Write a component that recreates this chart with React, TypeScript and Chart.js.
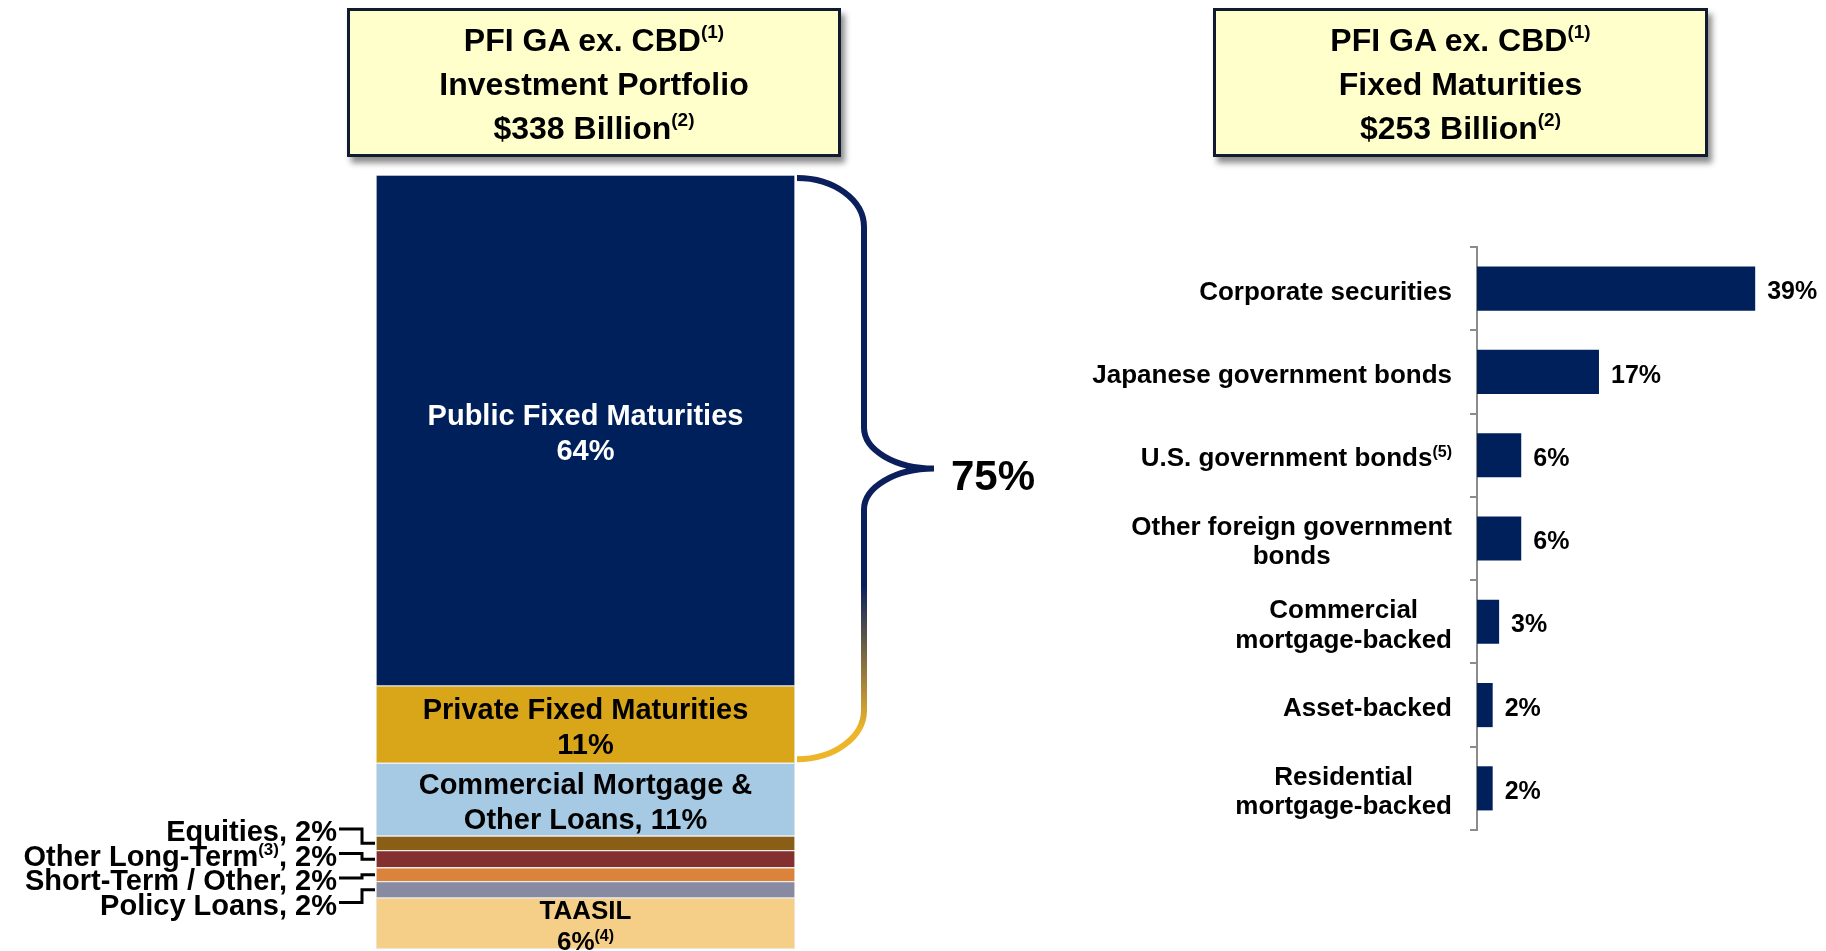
import React, { useEffect, useRef } from 'react';
import { Chart, registerables } from 'chart.js';

Chart.register(...registerables);

const FONT = '"Liberation Sans", Arial, Helvetica, sans-serif';

// ---------- Left chart: investment portfolio (stacked, 100%) ----------
const portfolioSegments = [
  'Public Fixed Maturities',
  'Private Fixed Maturities',
  'Commercial Mortgage & Other Loans',
  'Equities',
  'Other Long-Term',
  'Short-Term / Other',
  'Policy Loans',
  'TAASIL',
];
// shares as drawn in the picture (share of total bar height, %)
const portfolioShares = [66, 10, 9.4, 1.9, 2.2, 1.8, 2.1, 6.6];
// printed labels
const portfolioTextLines = [
  ['Public Fixed Maturities', '64%'],
  ['Private Fixed Maturities', '11%'],
  ['Commercial Mortgage &', 'Other Loans, 11%'],
  ['Equities, 2%'],
  ['Other Long-Term^{(3)}, 2%'],
  ['Short-Term / Other, 2%'],
  ['Policy Loans, 2%'],
  ['TAASIL', '6%^{(4)}'],
];
const calloutSegments = [3, 4, 5, 6];
const braceLabel = '75%';
const portfolioColors = ['#00205B', '#D9A61A', '#A6CAE3', '#8B5E15', '#84302F', '#DB823B', '#878AA0', '#F5CE88'];

// ---------- Right chart: fixed maturities ----------
const fmCategories = [
  ['Corporate securities'],
  ['Japanese government bonds'],
  ['U.S. government bonds'],
  ['Other foreign government', 'bonds'],
  ['Commercial', 'mortgage-backed'],
  ['Asset-backed'],
  ['Residential', 'mortgage-backed'],
];
const fmFootnotes = ['', '', '(5)', '', '', '', ''];
const fmShares = [39, 17.1, 6.2, 6.2, 3.1, 2.2, 2.2];

const leftTitleLines = ['PFI GA ex. CBD^{(1)}', 'Investment Portfolio', '$338 Billion^{(2)}'];
const rightTitleLines = ['PFI GA ex. CBD^{(1)}', 'Fixed Maturities', '$253 Billion^{(2)}'];

type Run = { t: string; sup: boolean };

function parseRich(s: string): Run[] {
  const runs: Run[] = [];
  const re = /\^\{([^}]*)\}/g;
  let last = 0;
  let m: RegExpExecArray | null;
  while ((m = re.exec(s))) {
    if (m.index > last) runs.push({ t: s.slice(last, m.index), sup: false });
    runs.push({ t: m[1], sup: true });
    last = re.lastIndex;
  }
  if (last < s.length) runs.push({ t: s.slice(last), sup: false });
  return runs;
}

function richWidth(ctx: CanvasRenderingContext2D, s: string, size: number) {
  const supSize = Math.round(size * 0.6);
  let w = 0;
  for (const r of parseRich(s)) {
    ctx.font = `bold ${r.sup ? supSize : size}px ${FONT}`;
    w += ctx.measureText(r.t).width;
  }
  return w;
}

function drawRich(
  ctx: CanvasRenderingContext2D,
  s: string,
  x: number,
  y: number,
  align: 'left' | 'right' | 'center',
  size: number,
  color: string
) {
  const runs = parseRich(s);
  const supSize = Math.round(size * 0.6);
  const widths = runs.map((r) => {
    ctx.font = `bold ${r.sup ? supSize : size}px ${FONT}`;
    return ctx.measureText(r.t).width;
  });
  const total = widths.reduce((a, b) => a + b, 0);
  let cx = align === 'left' ? x : align === 'right' ? x - total : x - total / 2;
  const yy = y + size * 0.15;
  ctx.textAlign = 'left';
  ctx.textBaseline = 'middle';
  ctx.fillStyle = color;
  runs.forEach((r, i) => {
    ctx.font = `bold ${r.sup ? supSize : size}px ${FONT}`;
    ctx.fillText(r.t, cx, r.sup ? yy - size * 0.26 : yy);
    cx += widths[i];
  });
  return total;
}

const portfolioPlugin = {
  id: 'portfolioAnnotations',
  afterDatasetsDraw(chart: any) {
    const ctx: CanvasRenderingContext2D = chart.ctx;
    const area = chart.chartArea;
    const rects = chart.data.datasets.map((_: any, i: number) => {
      const el = chart.getDatasetMeta(i).data[0];
      const top = Math.min(el.y, el.base);
      const bottom = Math.max(el.y, el.base);
      return { left: el.x - el.width / 2, right: el.x + el.width / 2, top, bottom, cx: el.x, cy: (top + bottom) / 2 };
    });
    ctx.save();
    // labels inside segments
    portfolioTextLines.forEach((lines, i) => {
      if (calloutSegments.includes(i)) return;
      const r = rects[i];
      const small = r.bottom - r.top < 60;
      const size = small ? 26 : 29;
      const lh = small ? 31 : 35;
      lines.forEach((line, j) =>
        drawRich(ctx, line, r.cx, r.cy + (j - (lines.length - 1) / 2) * lh, 'center', size, i === 0 ? '#FFFFFF' : '#000000')
      );
    });
    // callouts for thin segments
    const centers = calloutSegments.map((i) => rects[i].cy);
    const mid = centers.reduce((a, b) => a + b, 0) / centers.length - 1;
    calloutSegments.forEach((i, k) => {
      const ly = mid + (k - (calloutSegments.length - 1) / 2) * 24.5;
      const r = rects[i];
      drawRich(ctx, portfolioTextLines[i][0], area.left - 39, ly, 'right', 29, '#000000');
      ctx.beginPath();
      ctx.moveTo(area.left - 37, ly);
      ctx.lineTo(area.left - 14, ly);
      ctx.lineTo(area.left - 14, r.cy);
      ctx.lineTo(area.left - 1, r.cy);
      ctx.lineWidth = 3;
      ctx.lineJoin = 'miter';
      ctx.strokeStyle = '#000000';
      ctx.stroke();
    });
    // brace over the first two segments
    const x0 = rects[0].right + 2;
    const yTop = rects[0].top + 3;
    const yBot = rects[1].bottom - 4;
    const xv = x0 + 67;
    const xt = x0 + 137;
    const yMid = (yTop + yBot) / 2;
    const ry = 49;
    const ry2 = 41;
    const grad = ctx.createLinearGradient(0, yTop, 0, yBot);
    grad.addColorStop(0, '#0A1F5C');
    grad.addColorStop(0.7, '#0A1F5C');
    grad.addColorStop(0.95, '#EDB62A');
    grad.addColorStop(1, '#EDB62A');
    ctx.beginPath();
    ctx.ellipse(x0, yTop + ry, xv - x0, ry, 0, -Math.PI / 2, 0, false);
    ctx.lineTo(xv, yMid - ry2);
    ctx.ellipse(xt, yMid - ry2, xt - xv, ry2, 0, Math.PI, Math.PI / 2, true);
    ctx.ellipse(xt, yMid + ry2, xt - xv, ry2, 0, -Math.PI / 2, -Math.PI, true);
    ctx.lineTo(xv, yBot - ry);
    ctx.ellipse(x0, yBot - ry, xv - x0, ry, 0, 0, Math.PI / 2, false);
    ctx.lineWidth = 6;
    ctx.lineCap = 'butt';
    ctx.strokeStyle = grad;
    ctx.stroke();
    drawRich(ctx, braceLabel, xt + 17, yMid + 4, 'left', 42, '#000000');
    ctx.restore();
  },
};

const fmPlugin = {
  id: 'fmAnnotations',
  afterDraw(chart: any) {
    const ctx: CanvasRenderingContext2D = chart.ctx;
    const area = chart.chartArea;
    const yScale = chart.scales.y;
    ctx.save();
    fmCategories.forEach((lines, i) => {
      const y = yScale.getPixelForTick(i);
      const size = 26;
      const lh = 29.5;
      const full = lines.map((l, j) =>
        j === lines.length - 1 && fmFootnotes[i] ? `${l}^{${fmFootnotes[i]}}` : l
      );
      const widths = full.map((l) => richWidth(ctx, l, size));
      const blockW = Math.max(...widths);
      const right = area.left - 25;
      const cx = right - blockW / 2;
      full.forEach((l, j) => drawRich(ctx, l, cx, y + (j - (full.length - 1) / 2) * lh, 'center', size, '#000000'));
    });
    const meta = chart.getDatasetMeta(0);
    meta.data.forEach((el: any, i: number) => {
      drawRich(ctx, `${Math.round(fmShares[i])}%`, el.x + 12, el.y, 'left', 25, '#000000');
    });
    ctx.restore();
  },
};

function RichHtml({ text }: { text: string }) {
  return (
    <>
      {parseRich(text).map((r, i) =>
        r.sup ? (
          <span key={i} style={{ fontSize: 19, position: 'relative', top: -13, lineHeight: 0 }}>
            {r.t}
          </span>
        ) : (
          <span key={i}>{r.t}</span>
        )
      )}
    </>
  );
}

function TitleBox({ left, width, lines }: { left: number; width: number; lines: string[] }) {
  return (
    <div
      style={{
        position: 'absolute',
        left,
        top: 8,
        width,
        height: 149,
        boxSizing: 'border-box',
        border: '3px solid #111B30',
        background: '#FFFFCC',
        boxShadow: '4px 6px 6px rgba(0,0,0,0.45)',
        fontFamily: FONT,
        fontWeight: 700,
        fontSize: 32,
        lineHeight: '44px',
        textAlign: 'center',
        paddingTop: 7,
        color: '#000',
      }}
    >
      {lines.map((l, i) => (
        <div key={i} style={{ height: 44, whiteSpace: 'nowrap' }}>
          <RichHtml text={l} />
        </div>
      ))}
    </div>
  );
}

export default function App() {
  const leftRef = useRef<HTMLCanvasElement | null>(null);
  const rightRef = useRef<HTMLCanvasElement | null>(null);

  useEffect(() => {
    Chart.defaults.font.family = FONT;
    const left = new Chart(leftRef.current as HTMLCanvasElement, {
      type: 'bar',
      data: {
        labels: ['Portfolio'],
        datasets: portfolioSegments.map((name, i) => ({
          label: name,
          data: [portfolioShares[i]],
          backgroundColor: portfolioColors[i],
          borderColor: '#EDEDED',
          borderWidth: 1,
          borderSkipped: false,
          barPercentage: 1,
          categoryPercentage: 1,
        })),
      },
      options: {
        responsive: false,
        animation: false,
        layout: { padding: { left: 376, right: 265, top: 175, bottom: 2 } },
        plugins: { legend: { display: false }, tooltip: { enabled: false } },
        scales: {
          x: { display: false, stacked: true },
          y: { display: false, stacked: true, reverse: true, min: 0, max: 100 },
        },
      },
      plugins: [portfolioPlugin],
    } as any);

    const right = new Chart(rightRef.current as HTMLCanvasElement, {
      type: 'bar',
      data: {
        labels: fmCategories,
        datasets: [
          {
            label: 'Fixed Maturities',
            data: fmShares,
            backgroundColor: '#00205B',
            barPercentage: 0.53,
            categoryPercentage: 1,
          },
        ],
      },
      options: {
        indexAxis: 'y',
        responsive: false,
        animation: false,
        layout: { padding: { left: 410, right: 28, top: 247, bottom: 121 } },
        plugins: { legend: { display: false }, tooltip: { enabled: false } },
        scales: {
          x: { display: false, min: 0, max: 45 },
          y: {
            z: 1,
            ticks: { display: false },
            grid: {
              display: true,
              drawOnChartArea: false,
              drawTicks: true,
              tickLength: 7,
              color: '#8C8C8C',
              lineWidth: 2,
              offset: true,
            },
            border: { display: true, color: '#8C8C8C', width: 2 },
          },
        },
      },
      plugins: [fmPlugin],
    } as any);

    return () => {
      left.destroy();
      right.destroy();
    };
  }, []);

  return (
    <div
      style={{
        position: 'absolute',
        left: 0,
        top: 0,
        width: 1826,
        height: 951,
        overflow: 'hidden',
        background: '#FFFFFF',
      }}
    >
      <canvas ref={leftRef} width={1060} height={951} style={{ position: 'absolute', left: 0, top: 0 }} />
      <canvas ref={rightRef} width={766} height={951} style={{ position: 'absolute', left: 1060, top: 0 }} />
      <TitleBox left={347} width={494} lines={leftTitleLines} />
      <TitleBox left={1213} width={495} lines={rightTitleLines} />
    </div>
  );
}
